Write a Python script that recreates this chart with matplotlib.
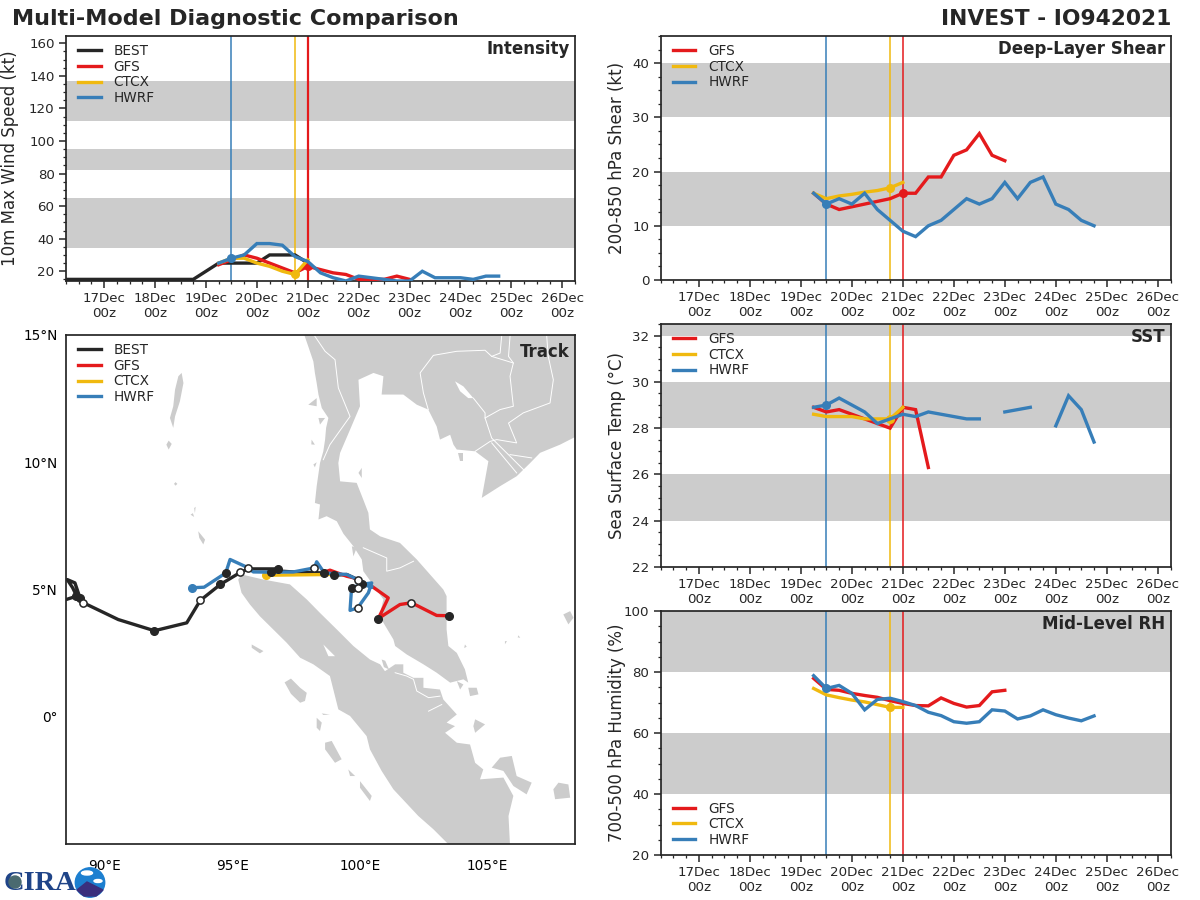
import numpy as np
import matplotlib
matplotlib.use("Agg")
import matplotlib.pyplot as plt
from matplotlib.patches import Circle, Ellipse, Polygon
from matplotlib.ticker import MultipleLocator

BLACK = "#262626"
RED = "#e41a1c"
YELLOW = "#f0b90f"
BLUE = "#377eb8"
GREY = "#cccccc"

# 6-hourly values, first one at 16 Dec 06z for BEST and 19 Dec 06z for the models
wind_best = [15, 15, 15, 15, 15, 15, 15, 15, 15, 15, 15, 20, 25, 25, 25, 25, 30, 30, 30, 25]
wind_gfs = [24, 27, 30, 28, 25, 22, 19, 23, 21, 19, 18, 15, 15, 15, 17, 15]
wind_ctcx = [25, 28, 28, 25, 23, 20, 18, 27]
wind_hwrf = [25, 28, 30, 37, 37, 36, 29, 26, 19, 16, 14, 17, 16, 15, 14, 14, 20, 16, 16, 16, 15, 17, 17]

shear_gfs = [16, 14, 13, 13.5, 14, 14.5, 15, 16, 16, 19, 19, 23, 24, 27, 23, 22]
shear_ctcx = [16, 15, 15.5, 15.8, 16.2, 16.5, 17, 18]
shear_hwrf = [16, 14, 15, 14, 16, 13, 11, 9, 8, 10, 11, 13, 15, 14, 15, 18, 15, 18, 19, 14, 13, 11, 10]

sst_gfs = [28.9, 28.7, 28.8, 28.6, 28.4, 28.2, 28.0, 28.9, 28.8, 26.3]
sst_ctcx = [28.6, 28.5, 28.5, 28.5, 28.4, 28.4, 28.4, 28.9]
sst_hwrf = [28.9, 29.0, 29.3, 29.0, 28.7, 28.2, 28.4, 28.6, 28.5, 28.7, 28.6, 28.5, 28.4, 28.4,
            np.nan, 28.7, 28.8, 28.9, np.nan, 28.1, 29.4, 28.8, 27.4]

rh_gfs = [77.9, 74.3, 74, 73, 72.3, 71.7, 70.6, 69.7, 69, 68.9, 71.5, 69.7, 68.5, 69, 73.5, 74]
rh_ctcx = [74.6, 72.5, 71.6, 70.8, 70.2, 69.3, 68.4, 68.4]
rh_hwrf = [78.8, 74.6, 75.6, 73, 67.6, 71, 71.4, 70.3, 69, 66.8, 65.7, 63.7, 63.2, 63.7, 67.6, 67.2,
           64.6, 65.6, 67.6, 66, 64.9, 64, 65.6]

init_hwrf = 19.5
init_ctcx = 20.75
init_gfs = 21.0

day_ticks = [17, 18, 19, 20, 21, 22, 23, 24, 25, 26]

# tracks, lon / lat
best_lon = [99.68, 99.92, 100.08, 99.92, 99.49, 99.0, 98.61, 97.39, 96.93, 96.8, 95.63, 95.31, 94.53, 93.74, 93.21,
            91.94, 90.52, 89.15, 89.02, 88.82, 88.52, 88.73, 88.89, 88.49, 88.23]
best_lat = [5.07, 5.07, 5.2, 5.39, 5.59, 5.56, 5.65, 5.69, 5.72, 5.81, 5.81, 5.67, 5.2, 4.57, 3.69,
            3.38, 3.82, 4.48, 4.67, 5.26, 5.39, 5.07, 4.74, 4.61, 4.58]
best_00z_lon = [96.8, 94.53, 91.94, 89.02, 88.86, 99.68, 100.08]
best_00z_lat = [5.81, 5.2, 3.38, 4.67, 4.74, 5.07, 5.2]
best_12z_lon = [95.31, 93.74, 89.15, 99.92]
best_12z_lat = [5.67, 4.57, 4.48, 5.07]

gfs_lon = [103.52, 103.02, 102.03, 101.58, 100.73, 101.12, 100.47, 100.08, 99.75, 99.49, 98.83, 98.61]
gfs_lat = [3.97, 3.98, 4.48, 4.41, 3.86, 4.67, 5.13, 5.26, 5.46, 5.52, 5.76, 5.68]
gfs_00z_lon = [103.52, 100.73, 99.0]
gfs_00z_lat = [3.97, 3.86, 5.56]
gfs_12z_lon = [102.03]
gfs_12z_lat = [4.48]

ctcx_lon = [96.32, 98.83]
ctcx_lat = [5.56, 5.59]

hwrf_lon = [93.43, 93.89, 94.74, 94.91, 95.63, 95.82, 96.53, 97.39, 98.22, 98.31, 98.61, 99.49, 99.92,
            100.08, 100.47, 100.34, 99.92, 99.62, 99.68, 100.08, 100.47]
hwrf_lat = [5.07, 5.09, 5.65, 6.18, 5.85, 5.69, 5.68, 5.69, 5.85, 6.09, 5.65, 5.59, 5.39,
            5.2, 5.26, 4.87, 4.28, 4.18, 5.07, 5.2, 5.1]
hwrf_00z_lon = [94.74, 96.53, 98.61]
hwrf_00z_lat = [5.65, 5.68, 5.65]
hwrf_12z_lon = [95.63, 98.22, 99.92, 99.92]
hwrf_12z_lat = [5.85, 5.85, 5.39, 4.28]

# land outlines, lon / lat
mainland = [
    (97.79, 15.1), (97.98, 14.55), (98.18, 13.96), (98.24, 13.51), (98.31, 13.11), (98.38, 12.66),
    (98.51, 12.13), (98.77, 11.74), (98.68, 11.35), (98.64, 10.89), (98.57, 10.43), (98.44, 9.97),
    (98.31, 9.06), (98.24, 8.4), (98.44, 8.34), (98.38, 7.75), (98.7, 7.88), (99.1, 7.68),
    (99.36, 7.19), (99.75, 6.7), (100.08, 6.18), (100.14, 5.72), (100.47, 5.26), (100.64, 5.0),
    (100.93, 4.61), (100.8, 4.08), (100.93, 3.69), (101.32, 3.04), (101.39, 2.78), (101.84, 2.45),
    (102.5, 2.06), (103.02, 1.73), (103.55, 1.34), (104.07, 1.47), (104.26, 1.34), (104.13, 1.86),
    (103.81, 2.51), (103.48, 2.78), (103.41, 3.43), (103.41, 4.21), (103.41, 4.74), (103.28, 5.0),
    (102.76, 5.59), (102.24, 6.18), (101.58, 6.83), (100.8, 7.09), (100.4, 7.36), (100.34, 8.01),
    (100.14, 8.53), (99.88, 9.19), (99.23, 9.25), (99.16, 9.97), (99.23, 10.37), (99.62, 11.28),
    (100.01, 12.2), (99.95, 13.24), (100.54, 13.51), (100.93, 13.38), (100.86, 12.66), (101.71, 12.66),
    (102.24, 12.26), (102.69, 12.07), (103.02, 11.41), (103.15, 10.89), (103.55, 11.08), (103.68, 10.69),
    (103.81, 10.5), (104.53, 10.43), (105.05, 10.04), (104.79, 8.6), (105.51, 9.06), (106.16, 9.45),
    (106.69, 9.97), (107.08, 10.37), (107.86, 10.69), (108.45, 10.99), (108.6, 11.0), (108.6, 15.1),
]
sumatra = [
    (95.23, 5.39), (95.37, 5.59), (96.22, 5.39), (97.26, 5.2), (97.92, 4.61), (98.44, 4.08), (99.1, 3.43),
    (99.75, 2.78), (100.4, 2.25), (100.8, 2.06), (100.99, 1.79), (101.39, 2.06), (101.71, 2.06),
    (101.71, 1.73), (102.11, 1.53), (102.5, 1.53), (102.5, 1.14), (103.15, 1.07), (103.28, 0.68),
    (103.81, 0.09), (103.41, -0.23), (103.74, -0.37), (103.35, -0.63), (103.81, -1.02), (104.33, -1.09),
    (104.53, -1.81), (104.85, -2.07), (104.72, -2.46), (105.64, -2.39), (106.03, -3.11), (105.84, -3.9),
    (105.9, -5.08), (103.55, -5.08), (102.89, -4.42), (102.3, -3.9), (101.32, -2.85), (100.86, -2.13),
    (100.4, -1.28), (100.27, -0.76), (99.62, 0.03), (99.16, 0.29), (98.83, 1.6), (98.18, 2.06),
    (97.66, 2.32), (97.13, 2.91), (96.08, 3.95), (95.69, 4.41), (95.36, 4.87),
]
islands = [
    [(93.01, 13.51), (93.08, 13.11), (92.94, 12.39), (92.75, 11.8), (92.68, 11.35), (92.55, 11.74),
     (92.68, 12.2), (92.75, 12.85), (92.88, 13.38)],
    [(92.41, 10.69), (92.5, 10.85), (92.62, 10.72), (92.5, 10.5)],
    [(92.71, 9.15), (92.77, 9.22), (92.84, 9.15), (92.77, 9.08)],
    [(93.36, 7.94), (93.45, 8.0), (93.5, 7.85)],
    [(93.5, 8.2), (93.56, 8.25), (93.53, 8.0)],
    [(93.66, 7.29), (93.93, 6.96), (93.86, 6.77), (93.7, 7.03)],
    [(95.76, 2.84), (96.22, 2.58), (96.08, 2.49), (95.76, 2.71)],
    [(97.05, 1.35), (97.3, 1.5), (97.66, 1.14), (97.92, 0.94), (97.85, 0.62), (97.66, 0.55), (97.3, 0.9)],
    [(98.31, -0.04), (98.51, -0.23), (98.44, -0.56), (98.31, -0.43)],
    [(98.51, 0.13), (98.83, 0.09), (98.57, 0.07)],
    [(98.64, -1.02), (98.9, -0.95), (99.29, -1.67), (99.03, -1.81), (98.64, -1.28)],
    [(99.55, -2.07), (99.82, -2.33), (99.62, -2.33)],
    [(100.01, -2.53), (100.47, -3.11), (100.4, -3.31), (100.01, -2.79)],
    [(105.18, -2.0), (105.51, -1.61), (105.97, -1.54), (106.16, -2.33), (106.75, -2.59), (106.55, -3.05),
     (106.03, -2.72), (105.64, -2.13)],
    [(107.6, -2.85), (107.8, -2.59), (108.19, -2.66), (108.26, -3.18), (107.67, -3.24)],
    [(107.99, 4.02), (108.26, 4.15), (108.39, 3.89), (108.19, 3.63)],
    [(104.46, -0.37), (104.53, -0.1), (104.92, -0.3), (104.53, -0.63)],
    [(103.81, 1.4), (104.07, 1.27), (103.94, 1.07)],
    [(104.26, 1.14), (104.59, 1.14), (104.66, 0.88), (104.33, 0.81)],
    [(104.13, 2.84), (104.2, 2.75), (104.1, 2.7)],
    [(105.7, 2.97), (105.78, 2.97), (105.7, 2.85)],
    [(106.23, 3.2), (106.3, 3.1), (106.2, 3.12)],
    [(100.86, 2.25), (101.0, 2.2), (101.15, 1.86), (100.95, 1.95)],
    [(103.87, 10.37), (104.07, 10.37), (104.07, 10.04), (103.94, 10.04)],
    [(97.98, 12.26), (98.31, 12.52), (98.31, 12.2)],
    [(98.38, 11.74), (98.64, 11.74), (98.44, 11.48)],
    [(98.11, 10.89), (98.24, 10.69), (98.1, 10.7)],
    [(98.18, 9.91), (98.31, 10.0), (98.24, 9.8)],
    [(99.95, 9.58), (100.08, 9.78), (100.08, 9.38)],
    [(99.69, 6.7), (99.88, 6.63), (99.75, 6.3)],
]
lakes = [
    [(103.74, 13.18), (104.07, 12.98), (104.46, 12.52), (104.26, 12.52), (103.94, 12.79)],
    [(98.57, 2.84), (99.03, 2.38), (98.77, 2.38)],
]
borders = [
    [(98.24, 14.95), (98.64, 14.36), (99.03, 14.03), (99.16, 12.92), (99.62, 11.8), (98.83, 10.69), (98.57, 10.1)],
    [(102.69, 12.07), (102.5, 12.72), (102.37, 13.51), (102.89, 14.2), (103.81, 14.36), (104.92, 14.4),
     (105.18, 14.16), (106.03, 13.9), (105.9, 13.38), (106.03, 12.2), (105.51, 12.07), (104.92, 11.74)],
    [(105.57, 14.95), (105.51, 14.29), (105.18, 14.16)],
    [(105.9, 14.95), (105.84, 14.16), (106.03, 13.9)],
    [(107.34, 14.95), (107.4, 14.16), (107.6, 13.24), (107.47, 12.33), (106.42, 11.94), (105.84, 11.54),
     (106.16, 10.76), (105.38, 10.89), (105.12, 10.82), (104.53, 10.43)],
    [(104.46, 12.52), (104.92, 11.94), (104.92, 11.74), (105.18, 10.95), (106.56, 9.58)],
    [(105.18, 10.76), (106.16, 9.58)],
    [(105.9, 10.3), (106.75, 10.17)],
    [(100.14, 6.64), (101.06, 6.24), (101.06, 5.72), (101.58, 5.85), (102.11, 6.11)],
    [(101.39, 1.73), (101.84, 1.6), (102.11, 1.47), (102.24, 1.01), (102.7, 0.75), (103.15, 0.81)],
    [(102.7, 0.22), (103.22, 0.48)],
]

W, H = 1200, 900


def add_axes_px(fig, left, top, right, bottom):
    return fig.add_axes([left / W, 1 - bottom / H, (right - left) / W, (bottom - top) / H])


def model_times(values):
    return 19.25 + 0.25 * np.arange(len(values))


def style_axes(ax):
    for spine in ax.spines.values():
        spine.set_linewidth(1.25)
        spine.set_color(BLACK)


def add_legend(ax, lower=False):
    loc = "lower left" if lower else "upper left"
    anchor = (0.008, 0) if lower else (0.008, 1)
    ax.legend(loc=loc, bbox_to_anchor=anchor, frameon=False, fontsize=9.8, handlelength=1.65,
              handletextpad=0.95, labelspacing=0.12, borderaxespad=0.2, labelcolor=BLACK)


def plot_series(ax, series, title, ylabel, bands, ylim, major, minor, label_x, lower_legend=False):
    for low, high in bands:
        ax.axhspan(low, high, color=GREY, lw=0, zorder=0)

    for x, color in [(init_hwrf, BLUE), (init_ctcx, YELLOW), (init_gfs, RED)]:
        ax.axvline(x, color=color, lw=1.1, zorder=2)

    for name, color, values, times, init in series:
        ax.plot(times, values, color=color, lw=2.4, label=name, zorder=3, solid_joinstyle="miter")
        if init is not None:
            ax.plot(init, values[list(times).index(init)], "o", color=color, ms=5.5, zorder=3)

    ax.set_xlim(16.25, 26.25)
    ax.set_ylim(*ylim)
    ax.set_xticks(day_ticks)
    ax.set_xticklabels([f"{d}Dec\n00z" for d in day_ticks])
    ax.xaxis.set_minor_locator(MultipleLocator(0.25))
    ax.yaxis.set_major_locator(MultipleLocator(major))
    ax.yaxis.set_minor_locator(MultipleLocator(minor))
    ax.tick_params(which="major", length=4.7, width=1.1, labelsize=9.6, colors=BLACK)
    ax.tick_params(which="minor", length=2.2, width=0.9, colors=BLACK)
    ax.set_ylabel(ylabel, fontsize=12, color=BLACK)
    ax.yaxis.set_label_coords(label_x, 0.5)
    ax.text(0.99, 0.985, title, transform=ax.transAxes, ha="right", va="top",
            fontsize=12, fontweight="bold", color=BLACK, zorder=6)
    add_legend(ax, lower_legend)
    style_axes(ax)


def draw_markers(ax, lon00, lat00, lon12, lat12):
    ax.plot(lon00, lat00, "o", color=BLACK, ms=5.5, zorder=6)
    ax.plot(lon12, lat12, "o", mfc="white", mec=BLACK, mew=1.1, ms=5.2, zorder=6)


def plot_track(ax):
    for outline in [mainland, sumatra] + islands:
        ax.fill(*zip(*outline), color=GREY, lw=0, zorder=1)
    for outline in lakes:
        ax.fill(*zip(*outline), color="white", lw=0, zorder=2)
    for line in borders:
        ax.plot(*zip(*line), color="white", lw=0.7, zorder=2)

    ax.plot(best_lon, best_lat, color=BLACK, lw=2.4, label="BEST", zorder=3)
    ax.plot(gfs_lon, gfs_lat, color=RED, lw=2.4, label="GFS", zorder=3)
    ax.plot(ctcx_lon, ctcx_lat, color=YELLOW, lw=2.4, label="CTCX", zorder=3)
    ax.plot(hwrf_lon, hwrf_lat, color=BLUE, lw=2.4, label="HWRF", zorder=4)
    ax.plot(ctcx_lon[0], ctcx_lat[0], "o", color=YELLOW, ms=5.5, zorder=3)
    ax.plot(hwrf_lon[0], hwrf_lat[0], "o", color=BLUE, ms=5.5, zorder=5)

    draw_markers(ax, best_00z_lon, best_00z_lat, best_12z_lon, best_12z_lat)
    draw_markers(ax, gfs_00z_lon, gfs_00z_lat, gfs_12z_lon, gfs_12z_lat)
    draw_markers(ax, hwrf_00z_lon, hwrf_00z_lat, hwrf_12z_lon, hwrf_12z_lat)

    ax.set_xlim(88.47, 108.45)
    ax.set_ylim(-5, 15)
    ax.set_xticks([90, 95, 100, 105])
    ax.set_xticklabels(["90°E", "95°E", "100°E", "105°E"])
    ax.set_yticks([0, 5, 10, 15])
    ax.set_yticklabels(["0°", "5°N", "10°N", "15°N"])
    ax.tick_params(axis="x", length=0, pad=11, labelsize=9.8)
    ax.tick_params(axis="y", length=0, pad=6, labelsize=9.8)
    ax.text(0.99, 0.985, "Track", transform=ax.transAxes, ha="right", va="top",
            fontsize=12, fontweight="bold", color=BLACK, zorder=7)
    add_legend(ax)
    style_axes(ax)


def draw_logo(fig):
    ax = fig.add_axes([0, 0, 1, 1], facecolor="none")
    ax.set_xlim(0, W)
    ax.set_ylim(H, 0)
    ax.axis("off")
    ax.text(4, 883, "CIRA", fontsize=20.5, fontweight="bold", family="Liberation Serif",
            color="#1f4488", ha="left", va="center")
    ax.add_patch(Circle((15, 882), 6, color="#4a6a70", zorder=3))
    ax.add_patch(Circle((90, 882.5), 14.7, color="#1c7fd0", zorder=3))
    ax.add_patch(Ellipse((87, 873), 11, 4, color="white", zorder=4))
    ax.add_patch(Ellipse((98, 881), 8, 3, color="white", zorder=4))
    ax.add_patch(Polygon([(77, 890), (87, 882), (93, 885), (103, 890), (96, 896), (84, 896)],
                         color="#3a2f7d", zorder=4))


fig = plt.figure(figsize=(12, 9), dpi=100)

ax_wind = add_axes_px(fig, 66, 36, 575, 281)
ax_track = add_axes_px(fig, 66, 335, 575, 844)
ax_shear = add_axes_px(fig, 660.7, 36, 1170.5, 280)
ax_sst = add_axes_px(fig, 660.7, 324, 1170.5, 567)
ax_rh = add_axes_px(fig, 660.7, 611, 1170.5, 855)

best_times = 16.25 + 0.25 * np.arange(len(wind_best))

plot_series(
    ax_wind,
    [
        ("BEST", BLACK, wind_best, best_times, None),
        ("GFS", RED, wind_gfs, model_times(wind_gfs), init_gfs),
        ("CTCX", YELLOW, wind_ctcx, model_times(wind_ctcx), init_ctcx),
        ("HWRF", BLUE, wind_hwrf, model_times(wind_hwrf), init_hwrf),
    ],
    "Intensity", "10m Max Wind Speed (kt)", [(34.5, 65), (82, 95), (112, 137)], (14, 164.5), 20, 5, -0.092,
)
ax_wind.axvline(init_gfs, color=RED, lw=1.6, zorder=2)
plot_series(
    ax_shear,
    [
        ("GFS", RED, shear_gfs, model_times(shear_gfs), init_gfs),
        ("CTCX", YELLOW, shear_ctcx, model_times(shear_ctcx), init_ctcx),
        ("HWRF", BLUE, shear_hwrf, model_times(shear_hwrf), init_hwrf),
    ],
    "Deep-Layer Shear", "200-850 hPa Shear (kt)", [(10, 20), (30, 40)], (0, 45), 10, 2.5, -0.069,
)
plot_series(
    ax_sst,
    [
        ("GFS", RED, sst_gfs, model_times(sst_gfs), None),
        ("CTCX", YELLOW, sst_ctcx, model_times(sst_ctcx), init_ctcx),
        ("HWRF", BLUE, sst_hwrf, model_times(sst_hwrf), init_hwrf),
    ],
    "SST", "Sea Surface Temp (°C)", [(24, 26), (28, 30), (32, 33)], (22, 32.5), 2, 0.5, -0.069,
)
plot_series(
    ax_rh,
    [
        ("GFS", RED, rh_gfs, model_times(rh_gfs), None),
        ("CTCX", YELLOW, rh_ctcx, model_times(rh_ctcx), init_ctcx),
        ("HWRF", BLUE, rh_hwrf, model_times(rh_hwrf), init_hwrf),
    ],
    "Mid-Level RH", "700-500 hPa Humidity (%)", [(40, 60), (80, 100)], (20, 100), 20, 5, -0.069,
    lower_legend=True,
)
plot_track(ax_track)

fig.text(12 / W, 1 - 19 / H, "Multi-Model Diagnostic Comparison", fontsize=16, fontweight="bold",
         color=BLACK, ha="left", va="center")
fig.text(1171 / W, 1 - 19 / H, "INVEST - IO942021", fontsize=15.7, fontweight="bold",
         color=BLACK, ha="right", va="center")

draw_logo(fig)

fig.savefig("out.png", dpi=100)
